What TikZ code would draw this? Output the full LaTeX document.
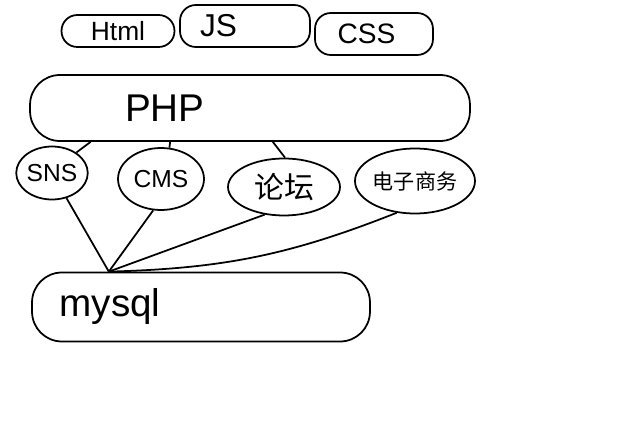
\documentclass[tikz,border=0pt]{standalone}
\usepackage{fontspec}
\setmainfont{Liberation Sans}
\newfontfamily\cjk{Noto Sans CJK SC}
\usetikzlibrary{shapes.geometric}
\tikzset{sketch/.style={
    draw,
    line width=1pt,
    inner sep=0pt
  },
  rbox/.style={sketch,rectangle,rounded corners=9pt,align=left},
  wbox/.style={rbox,rounded corners=17pt},
  obox/.style={sketch,ellipse},
  link/.style={line width=1pt},
}
\begin{document}
\begin{tikzpicture}[x=0.02cm,y=-0.02cm]
  \useasboundingbox (0,0) rectangle (640,429);
  % browser side
  \node [rbox,text width=2.26cm,minimum height=0.64cm,align=center,font=\fontsize{15}{17}\selectfont] (html) at (118,31) {Html};
  \node [rbox,text width=2.6cm,minimum height=0.84cm,font=\fontsize{18}{20}\selectfont] (js) at (245,26) {\hspace*{0.4cm}JS};
  \node [rbox,text width=2.36cm,minimum height=0.84cm,font=\fontsize{16}{18}\selectfont] (css) at (374,34) {\hspace*{0.45cm}CSS};
  % server
  \node [wbox,text width=8.8cm,minimum height=1.32cm,font=\fontsize{22}{24}\selectfont] (php) at (250,108) {\hspace*{1.9cm}PHP};
  \node [obox,minimum width=1.34cm,minimum height=1.06cm,font=\fontsize{14}{16}\selectfont] (sns) at (52,173) {SNS};
  \node [obox,minimum width=1.72cm,minimum height=1.24cm,font=\fontsize{14}{16}\selectfont] (cms) at (161,179) {CMS};
  \node [obox,minimum width=2.24cm,minimum height=1.14cm,font=\cjk\fontsize{17}{19}\selectfont] (forum) at (284,187) {论坛};
  \node [obox,minimum width=2.4cm,minimum height=1.3cm,font=\cjk\fontsize{12}{14}\selectfont] (shop) at (415,181) {电子商务};
  % database
  \node [wbox,text width=6.76cm,minimum height=1.38cm,font=\fontsize{22}{24}\selectfont] (mysql) at (201,307) {\hspace*{0.55cm}mysql};
  \draw[link] (php.192) -- (sns.40);
  \draw[link] (php.203) -- (cms.75);
  \draw[link] (php.304) -- (forum.88);
  \draw[link] (sns.300) -- (mysql.159);
  \draw[link] (cms.256) -- (mysql.159);
  \draw[link] (forum.235) -- (mysql.159);
  \draw[link] (shop.240) to[bend left=10] (mysql.159);
\end{tikzpicture}
\end{document}
